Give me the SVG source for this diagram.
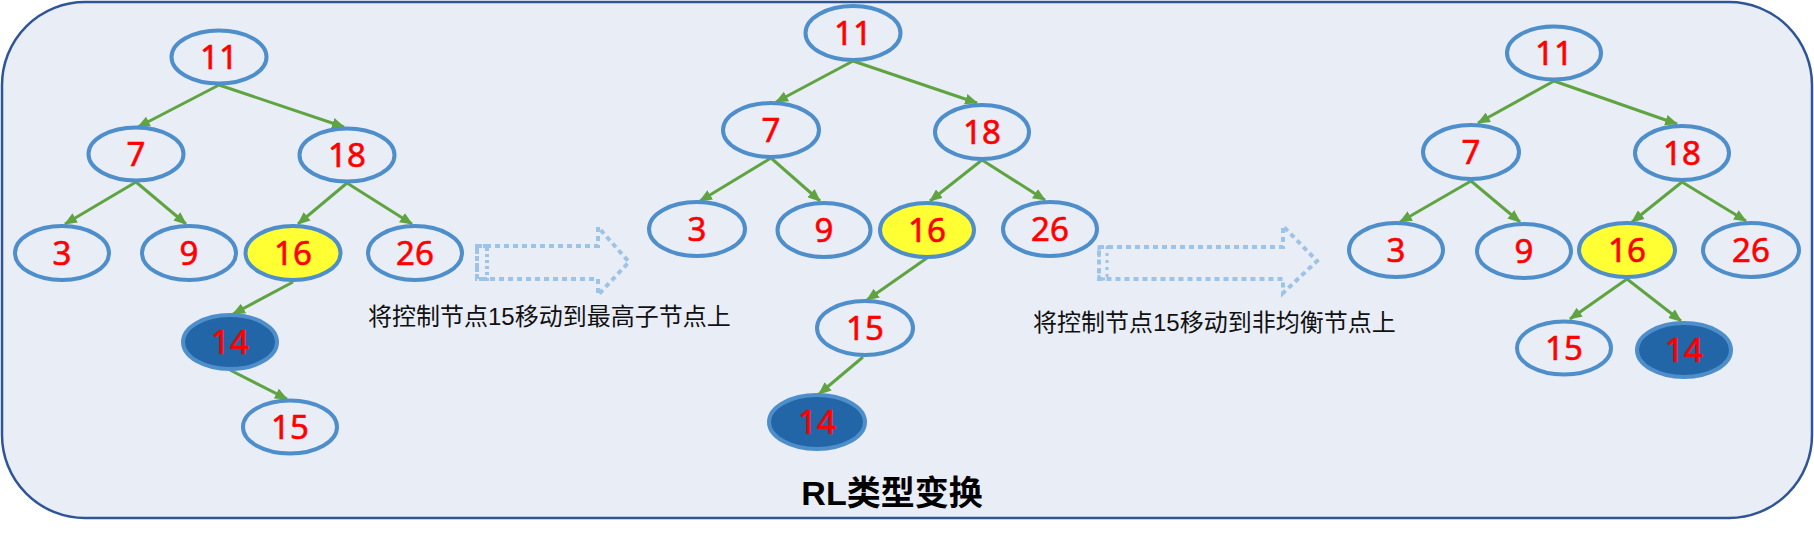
<svg xmlns="http://www.w3.org/2000/svg" width="1814" height="538" viewBox="0 0 1814 538">
<defs>
<style>
.n{fill:none;stroke:#4E8ECB;stroke-width:4}
.y{fill:#FFFF33;stroke:#4E8ECB;stroke-width:4}
.d{fill:#2266A8;stroke:#4E8ECB;stroke-width:4}
.t{font-family:"Noto Sans","Liberation Sans",sans-serif;font-size:33px;fill:#FF0000;stroke:#FF0000;stroke-width:0.6;text-anchor:middle}
.e line{stroke:#60A442;stroke-width:3;marker-end:url(#ah)}
.lbl{font-family:"Liberation Sans","Noto Sans CJK SC",sans-serif;font-size:24px;fill:#111}
.ba{fill:none;stroke:#9DC3E6;stroke-width:4;stroke-dasharray:5 4}
</style>
<marker id="ah" viewBox="0 0 12 10" refX="11" refY="5" markerWidth="13" markerHeight="11" markerUnits="userSpaceOnUse" orient="auto">
<path d="M0,0 L12,5 L0,10 z" fill="#60A442"/>
</marker>
</defs>
<rect x="2" y="2" width="1810" height="516" rx="83" ry="83" fill="#E9EDF6" stroke="#2F5597" stroke-width="2.5"/>

<g id="connectors" class="e">
<line x1="219" y1="85" x2="138" y2="127"/>
<line x1="219" y1="85" x2="344" y2="127"/>
<line x1="136" y1="182" x2="65" y2="224"/>
<line x1="136" y1="182" x2="186" y2="224"/>
<line x1="347" y1="183" x2="298" y2="224"/>
<line x1="347" y1="183" x2="412" y2="224"/>
<line x1="293" y1="282" x2="233" y2="314"/>
<line x1="230" y1="370" x2="287" y2="399"/>

<line x1="853" y1="61" x2="776" y2="102"/>
<line x1="853" y1="61" x2="977" y2="103"/>
<line x1="771" y1="158" x2="700" y2="201"/>
<line x1="771" y1="158" x2="820" y2="201"/>
<line x1="982" y1="160" x2="930" y2="201"/>
<line x1="982" y1="160" x2="1045" y2="200"/>
<line x1="927" y1="258" x2="867" y2="300"/>
<line x1="863" y1="357" x2="819" y2="394"/>

<line x1="1554" y1="81" x2="1478" y2="123"/>
<line x1="1554" y1="81" x2="1677" y2="124"/>
<line x1="1471" y1="181" x2="1400" y2="222"/>
<line x1="1471" y1="181" x2="1520" y2="222"/>
<line x1="1682" y1="182" x2="1632" y2="222"/>
<line x1="1682" y1="182" x2="1746" y2="221"/>
<line x1="1627" y1="279" x2="1570" y2="319"/>
<line x1="1627" y1="279" x2="1681" y2="321"/>
</g>

<g id="L11"><ellipse class="n" cx="219" cy="57" rx="47.5" ry="26.5"/><text class="t" x="219" y="69">11</text></g>
<g id="L7"><ellipse class="n" cx="136" cy="154" rx="47.5" ry="26.5"/><text class="t" x="136" y="166">7</text></g>
<g id="L18"><ellipse class="n" cx="347" cy="155" rx="47.5" ry="26.5"/><text class="t" x="347" y="167">18</text></g>
<g id="L3"><ellipse class="n" cx="62" cy="253" rx="47" ry="27"/><text class="t" x="62" y="265">3</text></g>
<g id="L9"><ellipse class="n" cx="189" cy="253" rx="47" ry="27"/><text class="t" x="189" y="265">9</text></g>
<g id="L16"><ellipse class="y" cx="293" cy="253" rx="47.5" ry="27"/><text class="t" x="293" y="265">16</text></g>
<g id="L26"><ellipse class="n" cx="415" cy="253" rx="47" ry="27"/><text class="t" x="415" y="265">26</text></g>
<g id="L14"><ellipse class="d" cx="230" cy="342" rx="47" ry="27"/><text class="t" x="230" y="354">14</text></g>
<g id="L15"><ellipse class="n" cx="290" cy="427" rx="47" ry="26.5"/><text class="t" x="290" y="439">15</text></g>

<g id="M11"><ellipse class="n" cx="853" cy="33" rx="47.5" ry="27"/><text class="t" x="853" y="45">11</text></g>
<g id="M7"><ellipse class="n" cx="771" cy="130" rx="48" ry="27"/><text class="t" x="771" y="142">7</text></g>
<g id="M18"><ellipse class="n" cx="982" cy="132" rx="47" ry="27"/><text class="t" x="982" y="144">18</text></g>
<g id="M3"><ellipse class="n" cx="697" cy="229" rx="48" ry="27"/><text class="t" x="697" y="241">3</text></g>
<g id="M9"><ellipse class="n" cx="824" cy="230" rx="46.5" ry="27"/><text class="t" x="824" y="242">9</text></g>
<g id="M16"><ellipse class="y" cx="927" cy="230" rx="47" ry="27"/><text class="t" x="927" y="242">16</text></g>
<g id="M26"><ellipse class="n" cx="1050" cy="229" rx="47" ry="27"/><text class="t" x="1050" y="241">26</text></g>
<g id="M15"><ellipse class="n" cx="865" cy="328" rx="48" ry="27"/><text class="t" x="865" y="340">15</text></g>
<g id="M14"><ellipse class="d" cx="817" cy="422" rx="48" ry="27"/><text class="t" x="817" y="434">14</text></g>

<g id="R11"><ellipse class="n" cx="1554" cy="53" rx="47" ry="26.5"/><text class="t" x="1554" y="65">11</text></g>
<g id="R7"><ellipse class="n" cx="1471" cy="152" rx="48" ry="27"/><text class="t" x="1471" y="164">7</text></g>
<g id="R18"><ellipse class="n" cx="1682" cy="153" rx="47" ry="27"/><text class="t" x="1682" y="165">18</text></g>
<g id="R3"><ellipse class="n" cx="1396" cy="250" rx="47" ry="27"/><text class="t" x="1396" y="262">3</text></g>
<g id="R9"><ellipse class="n" cx="1524" cy="251" rx="47" ry="27"/><text class="t" x="1524" y="263">9</text></g>
<g id="R16"><ellipse class="y" cx="1627" cy="250" rx="48" ry="27"/><text class="t" x="1627" y="262">16</text></g>
<g id="R26"><ellipse class="n" cx="1751" cy="250" rx="48" ry="27"/><text class="t" x="1751" y="262">26</text></g>
<g id="R15"><ellipse class="n" cx="1564" cy="348" rx="47" ry="26.5"/><text class="t" x="1564" y="360">15</text></g>
<g id="R14"><ellipse class="d" cx="1684" cy="350" rx="47" ry="27"/><text class="t" x="1684" y="362">14</text></g>

<g id="arrow1">
<polygon class="ba" points="477,246 598,246 598,227 629,262 598,295 598,279 477,279"/>
<rect x="477" y="246" width="10" height="33" fill="none" stroke="#9DC3E6" stroke-width="4" stroke-dasharray="3 3"/>
</g>
<g id="arrow2">
<polygon class="ba" points="1099,247 1283,247 1283,226 1317,261 1283,293 1283,279 1099,279"/>
<rect x="1099" y="247" width="8" height="32" fill="none" stroke="#9DC3E6" stroke-width="3" stroke-dasharray="3 4"/>
</g>

<text class="lbl" x="368" y="325">将控制节点15移动到最高子节点上</text>
<text class="lbl" x="1033" y="331">将控制节点15移动到非均衡节点上</text>
<text x="892" y="505" text-anchor="middle" font-family="'Liberation Sans','Noto Sans CJK SC',sans-serif" font-size="34" font-weight="bold" fill="#000">RL类型变换</text>
</svg>
